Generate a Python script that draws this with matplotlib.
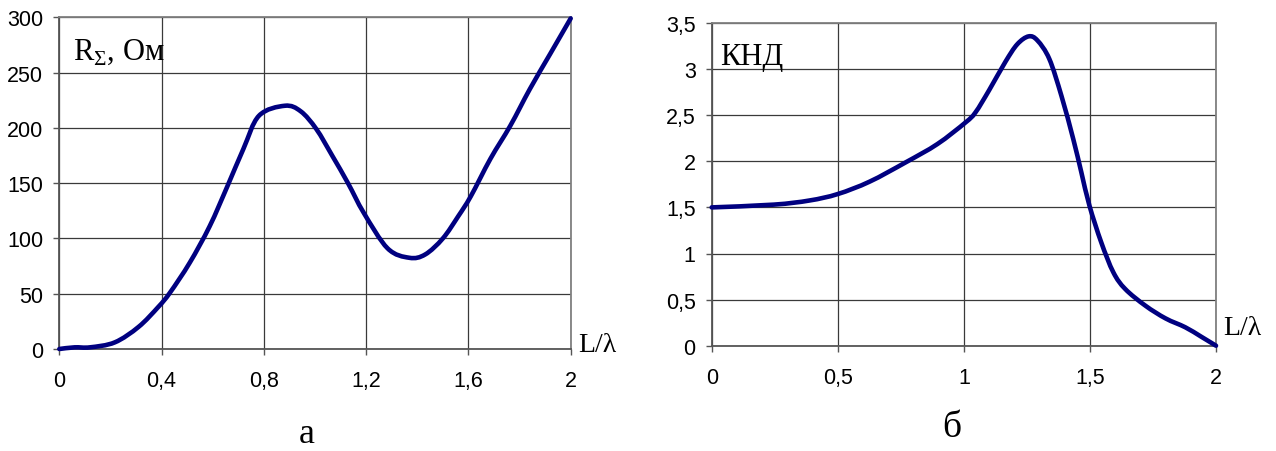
import matplotlib
matplotlib.use("Agg")
import matplotlib.pyplot as plt
from matplotlib.path import Path
from matplotlib.patches import PathPatch

# ---- data ----
x_a = [0, 0.06, 0.12, 0.217, 0.31, 0.387, 0.433, 0.51, 0.588, 0.657, 0.72, 0.781,
       0.882, 0.944, 1.005, 1.067, 1.129, 1.191, 1.284, 1.369, 1.431, 1.50, 1.56,
       1.609, 1.686, 1.764, 1.84, 1.92, 2.0]
r_sigma = [0, 1.5, 1.5, 6, 20, 38, 51, 78, 111, 147, 181, 211,
           220, 215, 199, 175, 150, 123, 91, 82.5, 85.5, 100, 120,
           138, 172, 202, 235, 267, 299]

x_b = [0, 0.246, 0.388, 0.5, 0.626, 0.769, 0.895, 1.006, 1.046, 1.10, 1.165, 1.212,
       1.257, 1.292, 1.339, 1.387, 1.434, 1.466, 1.498, 1.545, 1.593, 1.64, 1.72,
       1.80, 1.878, 1.94, 2.0]
knd = [1.5, 1.53, 1.575, 1.645, 1.779, 1.988, 2.187, 2.42, 2.53, 2.77, 3.08, 3.27,
       3.355, 3.31, 3.11, 2.71, 2.24, 1.88, 1.52, 1.12, 0.795, 0.615, 0.434,
       0.296, 0.2, 0.1, 0.0]

xticks_a = [0, 0.4, 0.8, 1.2, 1.6, 2]
xticklabels_a = ["0", "0,4", "0,8", "1,2", "1,6", "2"]
yticks_a = [0, 50, 100, 150, 200, 250, 300]
yticklabels_a = ["0", "50", "100", "150", "200", "250", "300"]

xticks_b = [0, 0.5, 1, 1.5, 2]
xticklabels_b = ["0", "0,5", "1", "1,5", "2"]
yticks_b = [0, 0.5, 1, 1.5, 2, 2.5, 3, 3.5]
yticklabels_b = ["0", "0,5", "1", "1,5", "2", "2,5", "3", "3,5"]

W, H = 1276, 452
fig = plt.figure(figsize=(W / 100, H / 100), dpi=100)
fig.patch.set_facecolor("white")

SANS = "Liberation Sans"
SERIF = "Liberation Serif"
LINE_C = "#000080"
GRID_C = "#3a3a3a"
SPINE_C = "#808080"
TICK_FS = 15.5


def px_axes(x0, x1, ytop, ybot):
    return fig.add_axes([x0 / W, (H - ybot) / H, (x1 - x0) / W, (ybot - ytop) / H])


def style(ax, xt, xtl, yt, ytl, xlim, ylim):
    ax.set_xlim(*xlim)
    ax.set_ylim(*ylim)
    ax.set_xticks(xt)
    ax.set_xticklabels(xtl, fontfamily=SANS, fontsize=TICK_FS)
    ax.set_yticks(yt)
    ax.set_yticklabels(ytl, fontfamily=SANS, fontsize=TICK_FS)
    ax.grid(True, color=GRID_C, linewidth=0.9)
    ax.set_axisbelow(True)
    for s in ax.spines.values():
        s.set_color(SPINE_C)
        s.set_linewidth(1.3)
    ax.spines["bottom"].set_color("#555555")
    ax.spines["left"].set_color("#555555")
    ax.tick_params(axis="x", direction="out", length=4.5, width=1, color="#555555", pad=10.5)
    ax.tick_params(axis="y", direction="out", length=4.5, width=1, color="#555555", pad=7)


def smooth_line(ax, xs, ys):
    """Excel-style smoothed line: cubic Bezier segments through the data points."""
    n = len(xs)
    verts = [(xs[0], ys[0])]
    codes = [Path.MOVETO]
    for i in range(n - 1):
        x0, y0 = xs[max(i - 1, 0)], ys[max(i - 1, 0)]
        x1, y1 = xs[i], ys[i]
        x2, y2 = xs[i + 1], ys[i + 1]
        x3, y3 = xs[min(i + 2, n - 1)], ys[min(i + 2, n - 1)]
        c1 = (x1 + (x2 - x0) / 6.0, y1 + (y2 - y0) / 6.0)
        c2 = (x2 - (x3 - x1) / 6.0, y2 - (y3 - y1) / 6.0)
        verts += [c1, c2, (x2, y2)]
        codes += [Path.CURVE4, Path.CURVE4, Path.CURVE4]
    patch = PathPatch(Path(verts, codes), facecolor="none", edgecolor=LINE_C,
                      linewidth=3.3, joinstyle="round", capstyle="round",
                      clip_on=False, zorder=5)
    ax.add_patch(patch)


ax1 = px_axes(59.3, 570.7, 18.3, 350)
style(ax1, xticks_a, xticklabels_a, yticks_a, yticklabels_a, (0, 2), (0, 300))
smooth_line(ax1, x_a, r_sigma)

ax2 = px_axes(711.7, 1216, 24, 346.7)
style(ax2, xticks_b, xticklabels_b, yticks_b, yticklabels_b, (0, 2), (0, 3.5))
smooth_line(ax2, x_b, knd)


def ftext(xp, yp, s, size, **kw):
    fig.text(xp / W, (H - yp) / H, s, fontsize=size, fontfamily=SERIF,
             va="baseline", **kw)


ftext(73, 60, r"R$_{\mathregular{Σ}}$, Ом", 22, ha="left")
ftext(720, 65, "КНД", 22, ha="left")
ftext(578, 352, "L/λ", 20, ha="left")
ftext(1223, 335, "L/λ", 20, ha="left")
ftext(307, 443, "а", 26, ha="center")
ftext(952, 437, "б", 27, ha="center")

fig.savefig("out.png", dpi=100, facecolor="white")
